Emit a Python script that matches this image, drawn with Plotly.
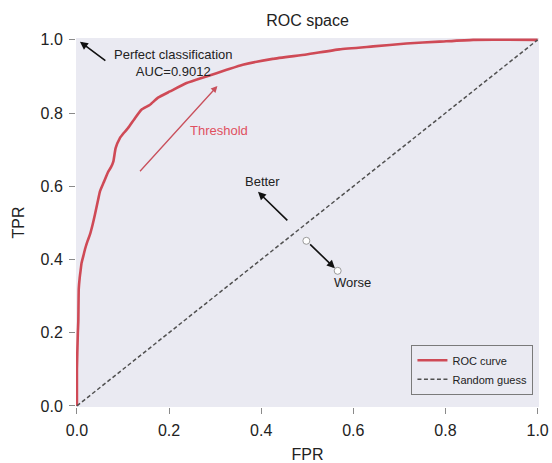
import plotly.graph_objects as go

# ROC curve values
fpr = [0.0, 0.0, 0.002, 0.003, 0.004, 0.006, 0.008, 0.010, 0.014, 0.018, 0.023,
       0.028, 0.034, 0.039, 0.046, 0.050, 0.058, 0.068, 0.074, 0.079, 0.084,
       0.093, 0.102, 0.111, 0.126, 0.140, 0.158, 0.176, 0.202, 0.238, 0.281,
       0.325, 0.360, 0.425, 0.498, 0.570, 0.643, 0.715, 0.787, 0.860, 1.0]
tpr = [0.0, 0.10, 0.20, 0.23, 0.32, 0.35, 0.37, 0.39, 0.41, 0.43, 0.45,
       0.467, 0.495, 0.522, 0.563, 0.586, 0.610, 0.640, 0.652, 0.667, 0.704,
       0.731, 0.746, 0.759, 0.786, 0.809, 0.822, 0.842, 0.859, 0.882, 0.900,
       0.918, 0.932, 0.948, 0.960, 0.974, 0.982, 0.990, 0.995, 1.0, 1.0]

guess_x = [0.0, 1.0]
guess_y = [0.0, 1.0]

# white "worse" markers
worse_x = [0.498, 0.566]
worse_y = [0.451, 0.369]

x_ticks = [0.0, 0.2, 0.4, 0.6, 0.8, 1.0]
y_ticks = [0.0, 0.2, 0.4, 0.6, 0.8, 1.0]

FONT = "Liberation Sans, Arial, Helvetica, sans-serif"

fig = go.Figure()
fig.add_trace(go.Scatter(x=fpr, y=tpr, mode="lines", name="ROC curve",
                         line=dict(color="#cf4a56", width=2.6, shape="spline",
                                   smoothing=0.4)))
fig.add_trace(go.Scatter(x=guess_x, y=guess_y, mode="lines", name="Random guess",
                         line=dict(color="#505050", width=1.5, dash="4px,2.5px")))
fig.add_trace(go.Scatter(x=worse_x, y=worse_y, mode="markers", showlegend=False,
                         marker=dict(color="white", size=7,
                                     line=dict(color="#9a9a9a", width=1))))

annos = [
    # perfect classification arrow
    dict(x=0.0065, y=0.995, ax=0.065, ay=0.94, text="", arrowcolor="#111111"),
    dict(x=0.21, y=0.937, text="Perfect classification<br>AUC=0.9012",
         showarrow=False, font=dict(size=13, color="#222222")),
    # threshold arrow
    dict(x=0.305, y=0.874, ax=0.134, ay=0.637, text="", arrowcolor="#c9505c",
         arrowwidth=1.3),
    dict(x=0.308, y=0.751, text="Threshold", showarrow=False,
         font=dict(size=13, color="#e0505f")),
    # better arrow
    dict(x=0.393, y=0.585, ax=0.46, ay=0.503, text="", arrowcolor="#111111"),
    dict(x=0.403, y=0.612, text="Better", showarrow=False,
         font=dict(size=13, color="#222222")),
    # worse arrow
    dict(x=0.560, y=0.376, ax=0.503, ay=0.445, text="", arrowcolor="#111111"),
    dict(x=0.598, y=0.337, text="Worse", showarrow=False,
         font=dict(size=13, color="#222222")),
]
for a in annos:
    base = dict(xref="x", yref="y")
    if a.get("text", None) == "":
        base.update(axref="x", ayref="y", showarrow=True, arrowhead=2,
                    arrowsize=1, arrowwidth=1.6)
    base.update(a)
    fig.add_annotation(**base)

axis_common = dict(showgrid=False, zeroline=False, showline=False,
                   automargin=False,
                   ticks="outside", ticklen=6, tickwidth=1, tickcolor="#8a8a8a",
                   tickfont=dict(size=16, color="#222222", family=FONT),
                   tickformat=".1f", ticklabelstandoff=3)

fig.update_layout(
    width=552, height=463, autosize=False,
    margin=dict(l=76, r=13, t=38, b=56),
    paper_bgcolor="white", plot_bgcolor="#eaeaf2",
    font=dict(family=FONT, color="#222222"),
    title=dict(text="ROC space", x=0.5, xref="paper", xanchor="center",
               y=1 - 20 / 463, yanchor="middle",
               font=dict(size=16, color="#222222")),
    xaxis=dict(range=[-0.002, 1.003], tickvals=x_ticks,
               title=dict(text="FPR", font=dict(size=16), standoff=13),
               **axis_common),
    yaxis=dict(range=[-0.003, 1.005], tickvals=y_ticks,
               title=dict(text="TPR", font=dict(size=16), standoff=11),
               **axis_common),
    legend=dict(x=0.988, y=0.033, xanchor="right", yanchor="bottom",
                bgcolor="#eaeaf2", bordercolor="#7a7a7a", borderwidth=1,
                font=dict(size=11, color="#222222"), tracegroupgap=0),
    showlegend=True,
)

fig.write_html("out.html",
               config={"displayModeBar": False},
               post_script="document.body.style.margin='0';"
                           "document.documentElement.style.overflow='hidden';")
